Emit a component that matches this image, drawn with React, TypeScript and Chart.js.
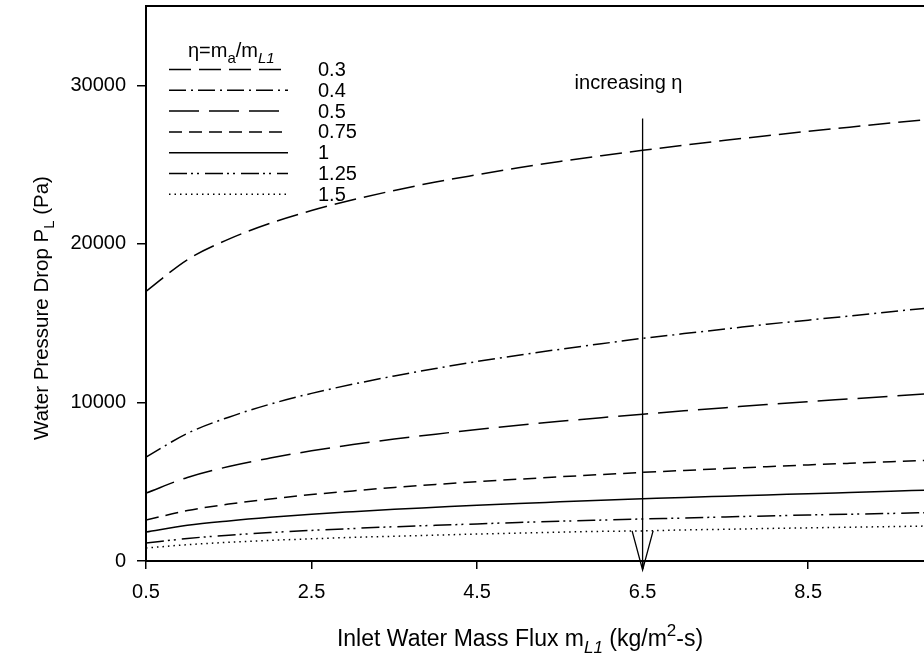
import React, { useEffect, useRef } from "react";
import { Chart, registerables } from "chart.js";

Chart.register(...registerables);

const FAMILY = '"Liberation Sans", Arial, Helvetica, sans-serif';

// Inlet water mass flux (kg/m2-s)
const xValues = [0.5, 1, 1.5, 2, 2.5, 3, 3.5, 4, 4.5, 5, 5.5, 6, 6.5, 7, 7.5, 8, 8.5, 9, 9.5, 10];

// Water pressure drop (Pa) per eta
const eta03 = [17000, 19000, 20300, 21300, 22100, 22780, 23370, 23900, 24360, 24800, 25200, 25560, 25900, 26220, 26530, 26820, 27100, 27360, 27620, 27870];
const eta04 = [6550, 8050, 9070, 9890, 10570, 11150, 11670, 12140, 12580, 12980, 13350, 13700, 14040, 14340, 14630, 14930, 15190, 15450, 15720, 15980];
const eta05 = [4280, 5270, 5960, 6490, 6950, 7340, 7690, 8000, 8290, 8560, 8810, 9040, 9260, 9470, 9670, 9870, 10050, 10220, 10390, 10560];
const eta075 = [2580, 3180, 3590, 3910, 4190, 4420, 4640, 4830, 5000, 5160, 5310, 5450, 5590, 5710, 5830, 5950, 6060, 6160, 6260, 6360];
const eta1 = [1830, 2250, 2530, 2760, 2950, 3110, 3260, 3390, 3520, 3630, 3730, 3830, 3920, 4010, 4090, 4170, 4240, 4320, 4400, 4480];
const eta125 = [1130, 1420, 1630, 1790, 1930, 2050, 2160, 2250, 2340, 2430, 2510, 2580, 2650, 2710, 2780, 2840, 2900, 2950, 3000, 3060];
const eta15 = [820, 1030, 1180, 1300, 1400, 1490, 1560, 1630, 1700, 1760, 1820, 1870, 1900, 1960, 2000, 2050, 2090, 2130, 2170, 2210];

const seriesLabels = ["0.3", "0.4", "0.5", "0.75", "1", "1.25", "1.5"];
const seriesValues = [eta03, eta04, eta05, eta075, eta1, eta125, eta15];
const seriesDashes: number[][] = [
  [22, 8],
  [17, 5, 2, 5],
  [30, 10],
  [13, 7],
  [],
  [18, 4, 2, 4, 2, 6],
  [1.5, 4],
];

const xTickValues = [0.5, 2.5, 4.5, 6.5, 8.5];
const yTickValues = [0, 10000, 20000, 30000];

const xMin = 0.5;
const xMax = 9.9;
const yMin = 0;
const yMax = 35000;

// "increasing eta" marker
const arrowX = 6.5;
const arrowTopValue = 27900;
const arrowWingValue = 1900;
const arrowTipValue = -560;
const arrowText = "increasing η";

type Seg = { t: string; mode?: "sub" | "sup"; italic?: boolean };

function drawRich(
  ctx: CanvasRenderingContext2D,
  segs: Seg[],
  x: number,
  y: number,
  size: number,
  align: "left" | "center",
  subScale = 0.72
) {
  const fontFor = (s: Seg) =>
    `${s.italic ? "italic " : ""}${s.mode ? Math.round(size * subScale) : size}px ${FAMILY}`;
  const widths = segs.map((s) => {
    ctx.font = fontFor(s);
    return ctx.measureText(s.t).width;
  });
  const total = widths.reduce((a, b) => a + b, 0);
  let cx = align === "center" ? x - total / 2 : x;
  ctx.textAlign = "left";
  ctx.textBaseline = "alphabetic";
  segs.forEach((s, i) => {
    ctx.font = fontFor(s);
    const dy = s.mode === "sub" ? size * 0.3 : s.mode === "sup" ? -size * 0.42 : 0;
    ctx.fillText(s.t, cx, y + dy);
    cx += widths[i];
  });
}

const decorPlugin = {
  id: "decor",
  afterDraw(chart: any) {
    const ctx: CanvasRenderingContext2D = chart.ctx;
    const { left, right, top } = chart.chartArea;
    const xs = chart.scales.x;
    const ys = chart.scales.y;
    ctx.save();
    ctx.fillStyle = "#000";
    ctx.strokeStyle = "#000";

    // top frame line
    ctx.lineWidth = 2;
    ctx.setLineDash([]);
    ctx.beginPath();
    ctx.moveTo(left - 1, top);
    ctx.lineTo(right, top);
    ctx.stroke();

    // arrow
    const ax = xs.getPixelForValue(arrowX);
    const aTop = ys.getPixelForValue(arrowTopValue);
    const aWing = ys.getPixelForValue(arrowWingValue);
    const aTip = ys.getPixelForValue(arrowTipValue);
    ctx.lineWidth = 1.3;
    ctx.beginPath();
    ctx.moveTo(ax, aTop);
    ctx.lineTo(ax, aTip);
    ctx.moveTo(ax - 10.5, aWing);
    ctx.lineTo(ax, aTip);
    ctx.lineTo(ax + 10.5, aWing);
    ctx.stroke();

    ctx.font = `20px ${FAMILY}`;
    ctx.textAlign = "left";
    ctx.textBaseline = "alphabetic";
    ctx.fillText(arrowText, ax - 68, 89);

    // legend
    drawRich(
      ctx,
      [
        { t: "η=m" },
        { t: "a", mode: "sub" },
        { t: "/m" },
        { t: "L1", mode: "sub", italic: true },
      ],
      188,
      57,
      20,
      "left",
      0.75
    );
    const rowY0 = 69.5;
    const rowStep = 20.8;
    seriesLabels.forEach((lab, i) => {
      const y = rowY0 + i * rowStep;
      ctx.lineWidth = 1.5;
      ctx.setLineDash(seriesDashes[i]);
      ctx.beginPath();
      ctx.moveTo(169, y);
      ctx.lineTo(288, y);
      ctx.stroke();
      ctx.setLineDash([]);
      ctx.font = `20px ${FAMILY}`;
      ctx.textAlign = "left";
      ctx.textBaseline = "middle";
      ctx.fillText(lab, 318, y + 1);
    });

    // axis titles
    drawRich(
      ctx,
      [
        { t: "Inlet Water Mass Flux m" },
        { t: "L1", mode: "sub", italic: true },
        { t: " (kg/m" },
        { t: "2", mode: "sup" },
        { t: "-s)" },
      ],
      520,
      646,
      23,
      "center"
    );
    ctx.save();
    ctx.translate(48, 308);
    ctx.rotate(-Math.PI / 2);
    drawRich(
      ctx,
      [{ t: "Water Pressure Drop P" }, { t: "L", mode: "sub" }, { t: " (Pa)" }],
      0,
      0,
      20.5,
      "center"
    );
    ctx.restore();

    ctx.restore();
  },
};

export default function App() {
  const ref = useRef<HTMLCanvasElement | null>(null);

  useEffect(() => {
    if (!ref.current) return;
    const datasets = seriesLabels.map((lab, i) => ({
      label: lab,
      data: xValues.map((x, j) => ({ x, y: seriesValues[i][j] })),
      borderColor: "#000",
      backgroundColor: "#000",
      borderWidth: 1.5,
      borderDash: seriesDashes[i],
      pointRadius: 0,
      fill: false,
      cubicInterpolationMode: "monotone" as const,
    }));
    const zeroPad = (s: any) => {
      s.paddingTop = 0;
      s.paddingBottom = 0;
      s.paddingLeft = 0;
      s.paddingRight = 0;
    };
    const chart = new Chart(ref.current, {
      type: "line",
      data: { datasets },
      options: {
        responsive: false,
        animation: false,
        devicePixelRatio: 1,
        layout: { padding: { top: 6, right: 0, left: 0, bottom: 0 } },
        plugins: { legend: { display: false }, tooltip: { enabled: false } },
        scales: {
          x: {
            type: "linear",
            min: xMin,
            max: xMax,
            afterBuildTicks: (s: any) => {
              s.ticks = xTickValues.map((v) => ({ value: v }));
            },
            afterFit: (s: any) => {
              s.height = 104;
              zeroPad(s);
            },
            grid: {
              display: true,
              drawOnChartArea: false,
              drawTicks: true,
              tickLength: 8,
              color: "#000",
              lineWidth: 1.5,
            },
            border: { display: true, color: "#000", width: 2 },
            ticks: {
              font: { size: 20, family: FAMILY },
              color: "#000",
              padding: 11,
              maxRotation: 0,
              autoSkip: false,
              callback: (v: any) => String(v),
            },
          },
          y: {
            type: "linear",
            min: yMin,
            max: yMax,
            afterBuildTicks: (s: any) => {
              s.ticks = yTickValues.map((v) => ({ value: v }));
            },
            afterFit: (s: any) => {
              s.width = 146;
              zeroPad(s);
            },
            grid: {
              display: true,
              drawOnChartArea: false,
              drawTicks: true,
              tickLength: 9,
              color: "#000",
              lineWidth: 1.5,
            },
            border: { display: true, color: "#000", width: 2 },
            ticks: {
              font: { size: 20, family: FAMILY },
              color: "#000",
              padding: 11,
              autoSkip: false,
              callback: (v: any) => String(v),
            },
          },
        },
      },
      plugins: [decorPlugin],
    });
    return () => chart.destroy();
  }, []);

  return (
    <div style={{ position: "fixed", left: 0, top: 0, width: 924, height: 665, background: "#fff" }}>
      <canvas ref={ref} width={924} height={665} style={{ display: "block" }} />
    </div>
  );
}
